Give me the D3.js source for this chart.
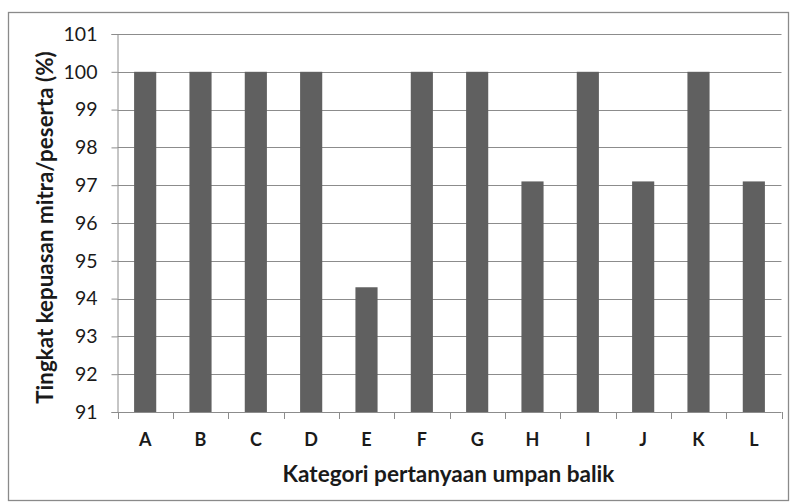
<!DOCTYPE html>
<html><head><meta charset="utf-8">
<script src="https://cdn.jsdelivr.net/npm/d3@7"></script>
<style>body{margin:0;background:#fff;} svg{display:block;}</style>
</head><body>
<script>
const categories = ["A","B","C","D","E","F","G","H","I","J","K","L"];
const values = [100,100,100,100,94.3,100,100,97.1,100,97.1,100,97.1];
const yTicks = [91,92,93,94,95,96,97,98,99,100,101];
const xTitle = "Kategori pertanyaan umpan balik";
const yTitle = "Tingkat kepuasan mitra/peserta (%)";

const W = 791, H = 503;
const svg = d3.select("body").append("svg").attr("width", W).attr("height", H);
svg.append("rect").attr("x", 8.5).attr("y", 12.5).attr("width", 780).attr("height", 488)
  .attr("fill", "#fff").attr("stroke", "#8a8a8a").attr("stroke-width", 1.3);

const pLeft = 117.5, pRight = 781.5, pTop = 34, pBottom = 412;
const x = d3.scaleBand().domain(categories).range([pLeft, pRight]).paddingInner(0.6).paddingOuter(0.3);
const y = d3.scaleLinear().domain([91, 101]).range([pBottom, pTop]);
const font = "Lato, 'Open Sans', sans-serif";

// gridlines
svg.append("g").selectAll("line").data(yTicks.filter(d => d > 91)).join("line")
  .attr("x1", pLeft).attr("x2", pRight).attr("y1", d => Math.round(y(d)) + 0.5).attr("y2", d => Math.round(y(d)) + 0.5)
  .attr("stroke", "#8c8c8c").attr("stroke-width", 1);

// bars
svg.append("g").selectAll("rect").data(categories).join("rect")
  .attr("x", d => x(d)).attr("width", x.bandwidth())
  .attr("y", (d, i) => y(values[i])).attr("height", (d, i) => y(91) - y(values[i]))
  .attr("fill", "#606060");

// y axis
const yAxis = svg.append("g").attr("transform", `translate(${pLeft},0)`)
  .call(d3.axisLeft(y).tickValues(yTicks).tickFormat(d3.format("d")).tickSize(6).tickPadding(14));
yAxis.select(".domain").attr("stroke", "#8c8c8c");
yAxis.selectAll(".tick line").attr("stroke", "#8c8c8c");
yAxis.selectAll("text").attr("font-family", font).attr("font-size", 19.5).attr("fill", "#1a1a1a");

// x axis
const xAxis = svg.append("g").attr("transform", `translate(0,${pBottom})`)
  .call(d3.axisBottom(x).tickSize(0).tickPadding(21));
xAxis.select(".domain").attr("stroke", "#8c8c8c").attr("d", `M${pLeft},0.5H${pRight}`);
xAxis.selectAll("text").attr("font-family", font).attr("font-size", 18).attr("font-weight", "bold").attr("fill", "#1a1a1a");
// category boundary ticks
const bounds = d3.range(categories.length + 1).map(i => pLeft + i * x.step());
svg.append("g").selectAll("line").data(bounds).join("line")
  .attr("x1", d => Math.round(d) + 0.5).attr("x2", d => Math.round(d) + 0.5)
  .attr("y1", pBottom).attr("y2", pBottom + 7).attr("stroke", "#8c8c8c");

// titles
svg.append("text").attr("x", 448.5).attr("y", 482).attr("text-anchor", "middle")
  .attr("font-family", font).attr("font-size", 22.6).attr("font-weight", "bold").attr("fill", "#1a1a1a").text(xTitle);
svg.append("text").attr("transform", `translate(53,227.5) rotate(-90)`).attr("text-anchor", "middle")
  .attr("font-family", font).attr("font-size", 22.4).attr("font-weight", "bold").attr("fill", "#1a1a1a").text(yTitle);
</script>
</body></html>
